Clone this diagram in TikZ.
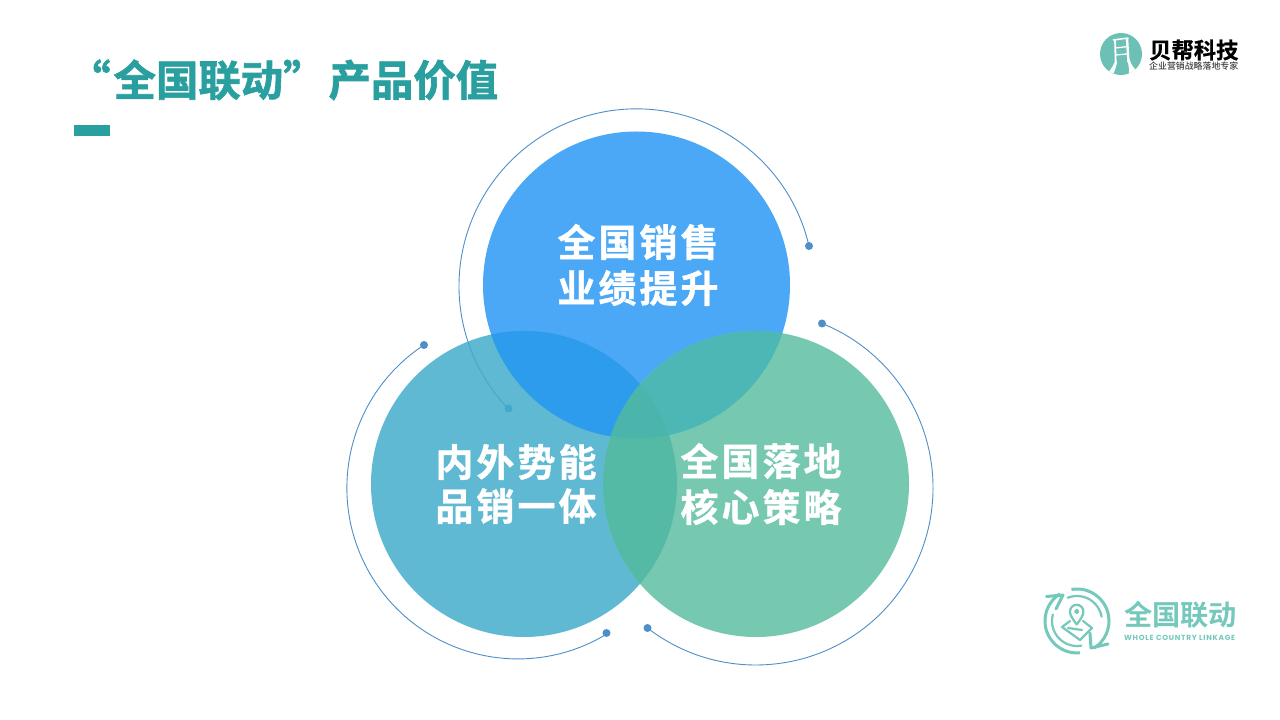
\documentclass[tikz,border=0pt]{standalone}
\usepackage{fontspec}
\setmainfont{Noto Sans CJK SC}
\newfontfamily\cjkb{Noto Sans CJK SC Bold}
\newfontfamily\cjkk{Noto Sans CJK SC Bold}[FakeBold=1.6]
\newfontfamily\cjkbrand{Noto Sans CJK SC Bold}[FakeBold=0.6]
\newfontfamily\cjkm{Noto Sans CJK SC Medium}
\newfontfamily\cjkbl{Noto Sans CJK SC Bold}[LetterSpace=8,FakeBold=0.9]
\newfontfamily\latinb{Poppins}[LetterSpace=10]
\definecolor{titleteal}{HTML}{2A9FA0}
\definecolor{cblue}{HTML}{4BA8F6}
\definecolor{cleft}{HTML}{43ADCC}
\definecolor{cright}{HTML}{76C9B0}
\definecolor{bl}{HTML}{2E9CEC}
\definecolor{br}{HTML}{4CB7B5}
\definecolor{lr}{HTML}{54BAA6}
\definecolor{blr}{HTML}{4BB4AB}
\definecolor{arcline}{HTML}{4F8FC9}
\definecolor{logoteal}{HTML}{6CC0B6}
\definecolor{linkteal}{HTML}{74C9BC}
\tikzset{
  x=1pt,y=1pt,
  circletext/.style={text=white,font={\fontsize{38}{38}\selectfont\cjkbl},inner sep=0pt,anchor=center},
  arcstroke/.style={draw=arcline,line width=0.9pt},
  enddot/.style={circle,fill=arcline,inner sep=0pt,minimum size=8pt},
  linkstroke/.style={draw=linkteal,line width=3pt,line join=round},
  linkthin/.style={draw=linkteal,line width=2.2pt,line cap=round,line join=round},
}
\begin{document}
\begin{tikzpicture}
\useasboundingbox (0,0) rectangle (1280,720);
\fill[white] (0,0) rectangle (1280,720);
% ---- title
\node[anchor=base west,inner sep=0pt,text=titleteal,font={\fontsize{42.4}{42}\selectfont\cjkk}] (title) at (68,624) {“\kern3pt全国联动”\kern3pt产品价值};
\fill[titleteal] (74,584) rectangle (110,595);
% ---- arcs and dots below the circles
\draw[arcstroke] (809,474) arc[start angle=13.1,end angle=223.7,radius=177.3];
\node[enddot] (d1) at (809,474) {};
\node[enddot] (d2) at (508.5,311.5) {};
\draw[arcstroke] (424,375) arc[start angle=123.3,end angle=301.2,radius=171];
\node[enddot] (d3) at (424,375) {};
\node[enddot] (d4) at (606.5,87) {};
\draw[arcstroke] (647.5,92) arc[start angle=232.3,end angle=428,radius=177.2];
\node[enddot] (d5) at (647.5,92) {};
\node[enddot] (d6) at (822,396.5) {};
% ---- circles
\fill[cblue] (636.5,435) circle[radius=153.5];
\fill[cleft,opacity=0.85] (524,236) circle[radius=153];
\fill[cright] (756,236) circle[radius=153];
\begin{scope}
  \clip (636.5,435) circle[radius=153.5];
  \fill[bl] (524,236) circle[radius=153];
  \fill[br] (756,236) circle[radius=153];
  \clip (524,236) circle[radius=153];
  \fill[blr] (756,236) circle[radius=153];
\end{scope}
\begin{scope}[even odd rule]
  \clip (636.5,435) circle[radius=153.5] (0,0) rectangle (1280,720);
  \clip (524,236) circle[radius=153];
  \fill[lr] (756,236) circle[radius=153];
\end{scope}
% ---- circle labels
\node[circletext] (a1) at (638,478) {全国销售};
\node[circletext] (a2) at (638,432) {业绩提升};
\node[circletext] (b1) at (516,258) {内外势能};
\node[circletext] (b2) at (516,214) {品销一体};
\node[circletext] (c1) at (761,259) {全国落地};
\node[circletext] (c2) at (761,213) {核心策略};
% ---- top right logo
\fill[logoteal] (1121,666) circle[radius=21];
\begin{scope}
  \clip (1121,666) circle[radius=21];
  \draw[white,line width=1.5pt] (1113,680) -- (1128.5,682);
  \draw[white,line width=1.8pt] (1115,680.5) -- (1115.7,657);
  \draw[white,line width=2.4pt] (1127,681.5) -- (1128.5,658);
  \draw[white,line width=1.3pt] (1115.7,672) -- (1126.5,673.3) (1115.7,665) -- (1127,666);
  \fill[white] (1114.7,658) -- (1117,658) .. controls (1116.5,653) and (1114,648) .. (1112,643) -- (1104,643) .. controls (1109,648) and (1113,653) .. (1114.7,658) -- cycle;
  \fill[white] (1127,660) -- (1130,660) .. controls (1131,655) and (1134,650) .. (1143,646) -- (1128,642) .. controls (1130,648) and (1129,655) .. (1127,660) -- cycle;
\end{scope}
\node[anchor=base west,inner sep=0pt,text=black,font={\fontsize{22.3}{22}\selectfont\cjkbrand}] (brand) at (1149,661.5) {贝帮科技};
\node[anchor=base west,inner sep=0pt,text=black!75,font={\fontsize{8.9}{9}\selectfont\cjkm}] (slogan) at (1149,650) {企业营销战略落地专家};
% ---- bottom right logo
\coordinate (lc) at (1077,99);
\draw[linkstroke] ([shift={(100:32)}]lc) arc[start angle=100,end angle=-58,radius=32];
\draw[linkstroke] ([shift={(122:32)}]lc) arc[start angle=122,end angle=275,radius=32];
\draw[linkthin] ([shift={(112:25)}]lc) arc[start angle=112,end angle=10,radius=25];
\draw[linkthin] ([shift={(165:25)}]lc) arc[start angle=165,end angle=280,radius=25];
\draw[linkstroke,line cap=round] (1046.5,123.5) -- (1063,125) -- (1056,111);
\draw[linkstroke,line cap=round] (1090,87) -- (1091,72) -- (1108,76);
\draw[linkthin] (1076.7,95.5) .. controls (1072,102) and (1070,105) .. (1070,108.5) arc[start angle=180,end angle=0,radius=6.7] .. controls (1083.4,105) and (1081.5,102) .. (1076.7,95.5);
\draw[linkthin] (1076.7,108.5) circle[radius=1.6];
\draw[linkthin] (1070,99) -- (1062,93) -- (1080,80) -- (1092,92) -- (1083,99);
\draw[linkthin] (1068,92) -- (1082,90);
\node[anchor=base west,inner sep=0pt,text=linkteal,font={\fontsize{28.2}{28}\selectfont\cjkb}] (linkname) at (1124,94) {全国联动};
\node[anchor=base west,inner sep=0pt,text=linkteal,font={\fontsize{7.4}{8}\selectfont\latinb\bfseries}] (linken) at (1124,79.5) {WHOLE COUNTRY LINKAGE};
\end{tikzpicture}
\end{document}
